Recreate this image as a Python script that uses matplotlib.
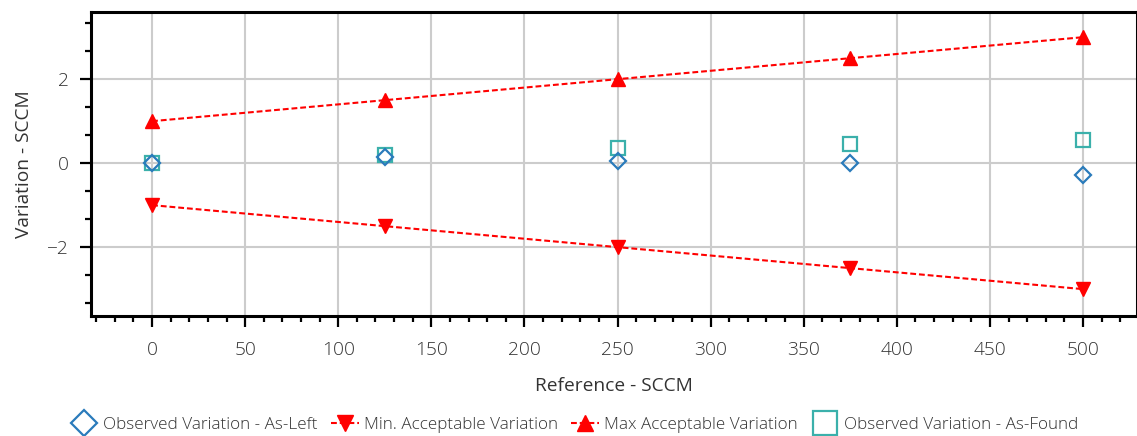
import matplotlib.pyplot as plt
from matplotlib.lines import Line2D
from matplotlib.ticker import MultipleLocator, AutoMinorLocator

plt.rcParams['font.family'] = ['Open Sans', 'DejaVu Sans']
plt.rcParams['font.weight'] = 'light'

# Data
reference = [0, 125, 250, 375, 500]
as_left = [0.0, 0.14, 0.06, 0.0, -0.28]
as_found = [0.0, 0.19, 0.35, 0.45, 0.55]
min_acceptable = [-1.0, -1.5, -2.0, -2.5, -3.0]
max_acceptable = [1.0, 1.5, 2.0, 2.5, 3.0]

# Colours
blue = '#2a7bbb'
teal = '#3bb0ab'
red = '#ff0000'
text_color = '#333333'
font_size = 13.8

fig = plt.figure(figsize=(11.37, 4.36), dpi=100)
ax = fig.add_axes([91 / 1137, 1 - 316 / 436, 1 - 91 / 1137, 304 / 436])

ax.plot(reference, as_found, linestyle='none', marker='s', markersize=9.5,
        markerfacecolor='none', markeredgecolor=teal, markeredgewidth=1.6, zorder=3)
ax.plot(reference, as_left, linestyle='none', marker='D', markersize=8.5,
        markerfacecolor='none', markeredgecolor=blue, markeredgewidth=1.6, zorder=4)
ax.plot(reference, min_acceptable, color=red, linewidth=1.5, dashes=[2.8, 1.4],
        marker='v', markersize=10, zorder=5)
ax.plot(reference, max_acceptable, color=red, linewidth=1.5, dashes=[2.8, 1.4],
        marker='^', markersize=10, zorder=5)

ax.set_xlim(-32.8, 529)
ax.set_ylim(-3.64, 3.6)

ax.xaxis.set_major_locator(MultipleLocator(50))
ax.xaxis.set_minor_locator(MultipleLocator(10))
ax.yaxis.set_major_locator(MultipleLocator(2))
ax.yaxis.set_minor_locator(AutoMinorLocator(3))

ax.grid(True, which='major', color='#cccccc', linewidth=1.5)
ax.set_axisbelow(True)

for side in ['left', 'bottom', 'top', 'right']:
    ax.spines[side].set_linewidth(2.2)
    ax.spines[side].set_color('black')

ax.tick_params(which='major', length=8, width=1.6, color='black',
               labelsize=font_size, labelcolor=text_color)
ax.tick_params(axis='x', which='major', pad=10)
ax.tick_params(axis='y', which='major', pad=8)
ax.tick_params(which='minor', length=4, width=1.6, color='black')

ax.set_xlabel('Reference - SCCM', fontsize=font_size, color=text_color, labelpad=13)
ax.set_ylabel('Variation - SCCM', fontsize=font_size, color=text_color, labelpad=10)

handles = [
    Line2D([], [], linestyle='none', marker='D', markersize=13, markerfacecolor='none',
           markeredgecolor=blue, markeredgewidth=1.6),
    Line2D([], [], color=red, linewidth=1.5, dashes=[2.8, 1.4], marker='v', markersize=11),
    Line2D([], [], color=red, linewidth=1.5, dashes=[2.8, 1.4], marker='^', markersize=11),
    Line2D([], [], linestyle='none', marker='s', markersize=17, markerfacecolor='none',
           markeredgecolor=teal, markeredgewidth=1.6),
]
labels = ['Observed Variation - As-Left', 'Min. Acceptable Variation',
          'Max Acceptable Variation', 'Observed Variation - As-Found']
legend = fig.legend(handles, labels, loc='center', bbox_to_anchor=(0.505, 1 - 425 / 436),
                    ncol=4, frameon=False, fontsize=12.3, handlelength=1.6,
                    handletextpad=0.3, columnspacing=0.8)
for text in legend.get_texts():
    text.set_color(text_color)

fig.savefig('out.png', dpi=100)
